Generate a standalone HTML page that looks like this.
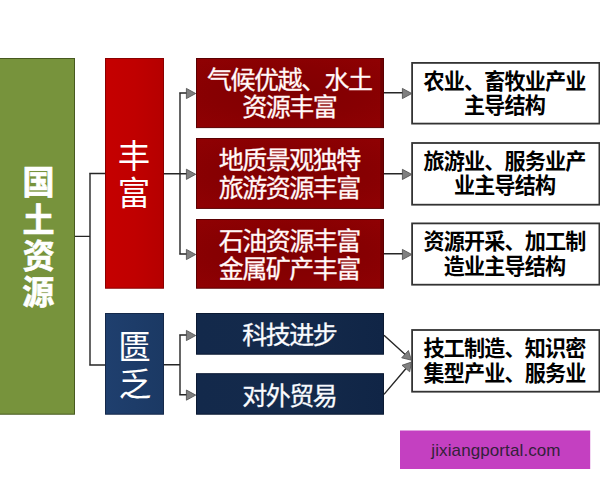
<!DOCTYPE html>
<html lang="zh">
<head>
<meta charset="utf-8">
<title>国土资源</title>
<style>
html,body{margin:0;padding:0;background:#fff;}
body{width:600px;height:480px;position:relative;overflow:hidden;font-family:"Liberation Sans",sans-serif;}
.b{position:absolute;box-sizing:border-box;color:transparent;text-align:center;overflow:hidden;white-space:nowrap;}
.b span{display:block;}
.green{left:0;top:58px;width:75px;height:356px;font-size:30px;line-height:36.7px;padding-top:104px;font-weight:bold;}
.red{left:105px;top:58px;width:59px;height:230px;font-size:32px;line-height:37px;padding-top:78px;}
.navyL{left:105px;top:313px;width:59px;height:101px;font-size:32px;line-height:37px;padding-top:14px;}
.dr{left:196px;width:188px;height:70px;font-size:23.5px;line-height:27.5px;padding-top:6px;}
.nv{left:196px;width:188px;height:41px;font-size:23.5px;line-height:39px;}
.wb{left:412px;width:187px;height:61px;font-size:20.25px;line-height:24px;font-weight:bold;padding-top:5px;}
.wm{left:401px;top:431px;width:190px;height:39px;color:#33203a;font-size:17px;line-height:39px;letter-spacing:0.1px;z-index:2;}
svg.ov{position:absolute;left:0;top:0;width:600px;height:480px;overflow:visible;z-index:1;}
svg.ov text{font-family:"Liberation Sans","Noto Sans CJK SC",sans-serif;}
.tr{font-size:25px;letter-spacing:-1.5px;fill:#fff;stroke:#ffe0e0;stroke-width:0.35;}
.tn{font-size:25px;letter-spacing:-1.5px;fill:#fff;stroke:#e6ecf6;stroke-width:0.35;}
.tb{font-size:21.1px;letter-spacing:-0.85px;font-weight:bold;fill:#000;}
.tg{font-size:32px;font-weight:bold;fill:#fff;stroke:#fff;stroke-width:0.64;}
.tl{font-size:32.5px;fill:#fff;}
</style>
</head>
<body>
<div class="b green"><span>国</span><span>土</span><span>资</span><span>源</span></div>
<div class="b red"><span>丰</span><span>富</span></div>
<div class="b navyL"><span>匮</span><span>乏</span></div>

<div class="b dr" style="top:58px"><span>气候优越、水土</span><span>资源丰富</span></div>
<div class="b dr" style="top:138px"><span>地质景观独特</span><span>旅游资源丰富</span></div>
<div class="b dr" style="top:219px"><span>石油资源丰富</span><span>金属矿产丰富</span></div>
<div class="b nv" style="top:313px"><span>科技进步</span></div>
<div class="b nv" style="top:373px"><span>对外贸易</span></div>

<div class="b wb" style="top:63px"><span>农业、畜牧业产业</span><span>主导结构</span></div>
<div class="b wb" style="top:143px"><span>旅游业、服务业产</span><span>业主导结构</span></div>
<div class="b wb" style="top:223px"><span>资源开采、加工制</span><span>造业主导结构</span></div>
<div class="b wb" style="top:330px"><span>技工制造、知识密</span><span>集型产业、服务业</span></div>

<div class="b wm">jixiangportal.com</div>

<svg class="ov" viewBox="0 0 600 480">
<defs>
<linearGradient id="gr" x1="0" y1="0" x2="1" y2="0"><stop offset="0" stop-color="#c50000"/><stop offset="0.5" stop-color="#c00000"/><stop offset="1" stop-color="#b50000"/></linearGradient>
<linearGradient id="gl" x1="0" y1="0" x2="1" y2="0"><stop offset="0" stop-color="#1f3f6e"/><stop offset="1" stop-color="#1b3964"/></linearGradient>
<linearGradient id="gn" x1="0" y1="0" x2="1" y2="0"><stop offset="0" stop-color="#13294b"/><stop offset="0.5" stop-color="#142a4b"/><stop offset="1" stop-color="#102546"/></linearGradient>
<radialGradient id="gd" cx="0.5" cy="0.5" r="0.75" gradientTransform="translate(0 0.5) scale(1 0.9) translate(0 -0.5)"><stop offset="0" stop-color="#800002"/><stop offset="0.55" stop-color="#870002"/><stop offset="1" stop-color="#900103"/></radialGradient>
</defs>
<g stroke-width="1">
<rect x="-1" y="58.5" width="75.5" height="355.7" fill="#77933c" stroke="#47591f"/>
<rect x="105.5" y="58.5" width="58" height="229.7" fill="url(#gr)" stroke="#8a0000"/>
<rect x="105.5" y="313.5" width="58" height="100.7" fill="url(#gl)" stroke="#15294a"/>
<rect x="196.5" y="58.5" width="187" height="69.1" fill="url(#gd)" stroke="#5a0002"/>
<rect x="196.5" y="138.5" width="187" height="69.9" fill="url(#gd)" stroke="#5a0002"/>
<rect x="196.5" y="219.5" width="187" height="68.7" fill="url(#gd)" stroke="#5a0002"/>
<rect x="196.5" y="313.5" width="187" height="40.7" fill="url(#gn)" stroke="#0b1a33"/>
<rect x="196.5" y="373.7" width="187" height="40.5" fill="url(#gn)" stroke="#0b1a33"/>
<path d="M381.6 59V127.5M381.6 139V208.3M381.6 220V288" stroke="#5a0002" stroke-opacity="0.55" stroke-width="2.6" fill="none"/>
<rect x="400" y="430.5" width="190.2" height="38.5" fill="#c440c1" stroke="none"/>
</g>
<g fill="#fff" stroke="#333" stroke-width="1.8">
<rect x="412.1" y="62.9" width="187.3" height="60.7"/>
<rect x="412.1" y="143" width="187.3" height="61.7"/>
<rect x="412.1" y="223.4" width="187.3" height="61.3"/>
<rect x="412.1" y="330" width="187.3" height="61.7"/>
</g>
<g fill="none" stroke="#262626" stroke-width="1.4">
<path d="M75 236.4H90M90 172.7V365.8M89.2 173.5H105M89.2 365H105"/>
<path d="M164 173.8H187M180 92.2V254.8M179.2 93H187M179.2 254H187"/>
<path d="M164 364.8H180M180 334.2V395.5M179.2 335H187M179.2 394.8H187"/>
<path d="M384 92.8H403M384 173.8H403M384 253.8H403"/>
<path d="M384 335.2L406 355.2M384 394.4L406 368.5"/>
</g>
<g fill="#808080" stroke="#4a4a4a" stroke-width="0.8" stroke-linejoin="round">
<path d="M186.4 88.4V98.6L195.7 93.5Z"/>
<path d="M186.4 169.2V179.4L195.7 174.3Z"/>
<path d="M186.4 249.4V259.6L195.7 254.5Z"/>
<path d="M186.4 330.4V340.6L195.7 335.5Z"/>
<path d="M186.4 390V400.2L195.7 395.1Z"/>
<path d="M402.4 88.4V98.6L411.8 93.5Z"/>
<path d="M402.4 169.3V179.5L411.8 174.4Z"/>
<path d="M402.4 249.4V259.6L411.8 254.5Z"/>
<path d="M408.4 350.5L401.7 357.8L411.5 360.2Z"/>
<path d="M402 365.3L409.7 371.8L411.5 362Z"/>
</g>
<g>
<text class="tr" x="207" y="88.92">气候优越、水土</text>
<text class="tr" x="242.25" y="116.42">资源丰富</text>
<text class="tr" x="218.75" y="169.32">地质景观独特</text>
<text class="tr" x="218.75" y="196.82">旅游资源丰富</text>
<text class="tr" x="218.75" y="250.32">石油资源丰富</text>
<text class="tr" x="218.75" y="277.82">金属矿产丰富</text>
<text class="tn" x="242.25" y="343.73">科技进步</text>
<text class="tn" x="242.25" y="405.02">对外贸易</text>
<text class="tb" x="423.57" y="88.82">农业、畜牧业产业</text>
<text class="tb" x="464.07" y="113.02">主导结构</text>
<text class="tb" x="423.57" y="169.02">旅游业、服务业产</text>
<text class="tb" x="453.95" y="193.02">业主导结构</text>
<text class="tb" x="423.57" y="248.92">资源开采、加工制</text>
<text class="tb" x="443.82" y="273.92">造业主导结构</text>
<text class="tb" x="423.57" y="356.32">技工制造、知识密</text>
<text class="tb" x="423.57" y="380.62">集型产业、服务业</text>
<text class="tg" transform="translate(22.55 194.06) scale(1 1.04)">国</text>
<text class="tg" transform="translate(22.45 231.53) scale(1 1.04)">土</text>
<text class="tg" transform="translate(22.63 268.08) scale(1 1.04)">资</text>
<text class="tg" transform="translate(22.31 304.21) scale(1 1.04)">源</text>
<text class="tl" x="117.73" y="168.05">丰</text>
<text class="tl" x="117.70" y="204.88">富</text>
<text class="tl" x="118.20" y="359.30">匮</text>
<text class="tl" x="118.69" y="396.22">乏</text>
</g>
</svg>
</body>
</html>
